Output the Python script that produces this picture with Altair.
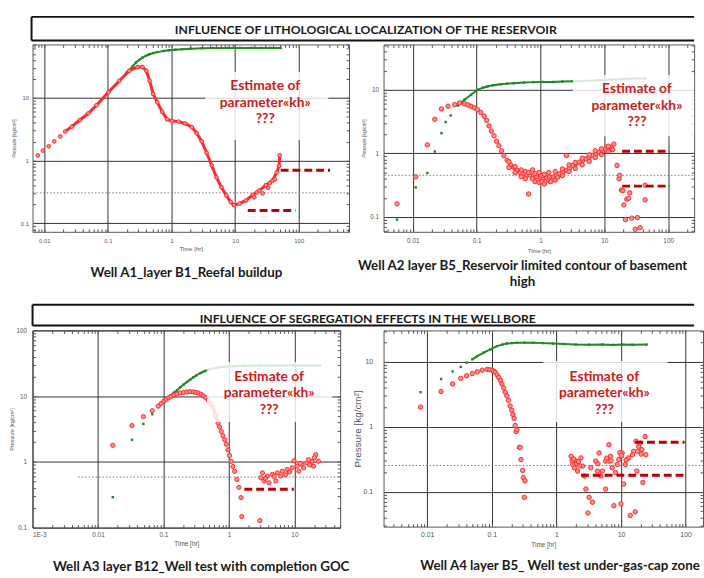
import math
import altair as alt
import pandas as pd

# ---------------- Well A1 / layer B1 ----------------
a1_red_t = [0.0079, 0.0095, 0.0117, 0.0143, 0.0178, 0.0212, 0.0269, 0.0363, 0.049, 0.066, 0.102, 0.151,
            0.216, 0.292, 0.348, 0.402, 0.453, 0.513, 0.596, 0.713, 0.851, 1.02, 1.29, 1.64, 2.09, 2.49,
            2.98, 3.56, 4.27, 5.09, 6.10, 7.28, 8.51, 9.55, 11.7, 14.8, 18.9, 24.0, 30.4, 38.6, 45.1, 49.0, 50.1]
a1_red_p = [1.21, 1.44, 1.69, 2.02, 2.42, 2.90, 3.47, 4.42, 5.62, 7.59, 12.3, 18.6,
            26.9, 30.9, 30.9, 26.9, 18.6, 11.5, 8.5, 5.96, 4.52, 4.27, 4.17, 3.89, 3.39, 2.73,
            2.02, 1.33, 0.84, 0.54, 0.375, 0.278, 0.219, 0.195, 0.206, 0.232, 0.284, 0.333, 0.407, 0.479, 0.646, 0.82, 1.21]
a1_red_scatter_t = [20.0, 22.0, 27.0, 33.0, 35.0, 42.0]
a1_red_scatter_p = [0.26, 0.31, 0.30, 0.37, 0.44, 0.50]
a1_green_sparse_t = []
a1_green_sparse_p = []
a1_green_t = [0.195, 0.216, 0.245, 0.275, 0.31, 0.348, 0.395, 0.443, 0.52, 0.596, 0.75, 0.906, 1.15, 1.46,
              2.0, 2.98, 4.5, 7.76, 12.0, 18.0, 25.5, 36.0, 52.0]
a1_green_p = [25.0, 27.5, 31.5, 36.3, 40.0, 43.4, 46.5, 49.0, 51.5, 53.2, 55.5, 57.1, 58.3, 59.3,
              60.5, 61.5, 62.0, 62.2, 62.2, 62.2, 62.2, 62.2, 62.2]
a1_dash_t0 = [52.0, 15.8]
a1_dash_t1 = [311.0, 89.0]
a1_dash_p = [0.70, 0.16]
a1_level = [0.0066, 610.0, 0.306]

# ---------------- Well A2 / layer B5 ----------------
a2_red_t = [0.00566, 0.0111, 0.0169, 0.0221, 0.0281, 0.0356, 0.0451, 0.0538, 0.0646, 0.0730, 0.0817, 0.092,
            0.103, 0.116, 0.131, 0.143, 0.156, 0.170, 0.187, 0.205, 0.223, 0.245, 0.267, 0.300, 0.338, 0.38,
            0.429, 0.48, 0.543, 0.61, 0.689, 0.78, 0.873, 1.0, 1.10, 1.24, 1.40, 1.58, 1.78, 2.0, 2.25, 2.54,
            2.85, 3.21, 3.6, 4.07, 4.6, 5.16, 5.8, 6.55, 7.4, 8.3, 9.3, 10.5, 11.5, 12.6, 13.3, 14.1, 15.8,
            17.0, 17.4, 18.6, 19.5, 20.2, 21.4, 22.5, 24.0, 25.0, 26.9, 30.5, 33.0, 36.3, 43.6, 43.6]
a2_red_p = [0.161, 0.427, 1.36, 3.43, 5.01, 5.52, 5.85, 6.21, 6.00, 5.80, 5.52, 5.2,
            4.90, 4.4, 3.86, 3.3, 2.70, 2.25, 1.89, 1.55, 1.32, 1.10, 0.925, 0.78, 0.664, 0.60,
            0.542, 0.50, 0.481, 0.46, 0.453, 0.44, 0.427, 0.41, 0.40, 0.412, 0.42, 0.427, 0.45, 0.481, 0.51, 0.542,
            0.59, 0.647, 0.69, 0.73, 0.78, 0.822, 0.87, 0.925, 0.98, 1.04, 1.10, 1.17, 1.20, 1.25, 1.15, 1.40, 0.647,
            0.40, 0.453, 0.265, 0.26, 0.155, 0.091, 0.19, 0.197, 0.24, 0.096, 0.064, 0.098, 0.068, 0.317, 0.186]
a2_red_scatter_t = [0.32, 0.32, 0.40, 0.40, 0.50, 0.50, 0.58, 0.58, 0.65, 0.65, 0.75, 0.75, 0.82, 0.82,
                    0.95, 0.95, 1.05, 1.05, 1.15, 1.15, 1.35, 1.35, 1.45, 1.7, 1.7, 1.85, 2.2, 2.2, 2.54,
                    2.8, 2.8, 3.5, 3.5, 4.5, 4.5, 5.8, 5.8, 7.2, 7.2, 9.0, 9.0, 11.5, 11.5, 13.5]
a2_red_scatter_p = [0.74, 0.60, 0.50, 0.62, 0.55, 0.43, 0.52, 0.40, 0.23, 0.50, 0.40, 0.55, 0.36, 0.48,
                    0.35, 0.50, 0.45, 0.36, 0.33, 0.47, 0.37, 0.50, 0.36, 0.38, 0.52, 0.42, 0.45, 0.57, 0.93,
                    0.52, 0.66, 0.58, 0.72, 0.66, 0.84, 0.75, 0.95, 0.86, 1.10, 0.96, 1.18, 1.08, 1.30, 1.15]
a2_green_sparse_t = [0.00566, 0.0111, 0.0169, 0.0221, 0.0281, 0.0327, 0.0391]
a2_green_sparse_p = [0.091, 0.292, 0.493, 1.07, 2.08, 3.12, 3.95]
a2_green_t = [0.0507, 0.0646, 0.0817, 0.103, 0.125, 0.148, 0.18, 0.237, 0.30, 0.380, 0.55, 0.776, 1.1,
              1.58, 2.2, 3.21, 5.0, 7.94, 13.0, 20.0, 30.0, 43.6]
a2_green_p = [5.65, 7.0, 8.36, 10.0, 10.8, 11.3, 11.8, 12.2, 12.5, 12.7, 13.0, 13.2, 13.3,
              13.3, 13.5, 13.6, 13.8, 14.1, 14.4, 14.8, 15.0, 15.1]
a2_dash_t0 = [19.0, 19.0]
a2_dash_t1 = [106.0, 106.0]
a2_dash_p = [1.08, 0.306]
a2_level = [0.0036, 250.0, 0.453]

# ---------------- Well A3 / layer B12 ----------------
a3_red_t = [0.0168, 0.033, 0.0493, 0.0675, 0.0832, 0.092, 0.101, 0.110, 0.120, 0.131, 0.143, 0.160, 0.180,
            0.203, 0.228, 0.255, 0.286, 0.312, 0.341, 0.372, 0.406, 0.443, 0.482, 0.525, 0.574, 0.625, 0.682,
            0.72, 0.766, 0.81, 0.861, 0.91, 0.966, 1.02, 1.08, 1.15, 1.22, 1.32, 1.42, 1.53, 1.57, 2.96]
a3_red_p = [1.78, 3.57, 4.88, 6.01, 7.06, 7.7, 8.41, 8.9, 9.44, 9.9, 10.4, 10.8, 11.2,
            11.4, 11.6, 11.7, 11.6, 11.4, 11.2, 10.7, 10.1, 9.5, 8.71, 7.7, 6.52, 5.1, 3.87,
            3.4, 2.90, 2.5, 2.17, 1.85, 1.53, 1.25, 1.02, 0.85, 0.72, 0.54, 0.41, 0.286, 0.147, 0.128]
a3_red_scatter_t = [3.07, 3.45, 3.87, 4.60, 5.48, 6.52, 7.74, 9.23, 11.0, 13.1, 15.5, 18.5, 21.2, 23.3,
                    3.25, 4.1, 5.2, 6.2, 7.3, 9.9, 11.7, 13.8, 16.4, 19.6, 20.2, 3.6, 4.9, 8.4, 12.2, 17.0]
a3_red_scatter_p = [0.574, 0.512, 0.608, 0.644, 0.682, 0.723, 0.766, 0.813, 0.861, 0.912, 0.966, 1.02, 1.29, 1.02,
                    0.68, 0.48, 0.51, 0.61, 0.64, 1.04, 0.72, 0.81, 1.08, 0.86, 1.16, 0.56, 0.60, 0.70, 0.95, 0.90]
a3_green_sparse_t = [0.0168, 0.033, 0.0493, 0.0675, 0.0832]
a3_green_sparse_p = [0.29, 2.17, 3.78, 5.30, 6.9]
a3_green_t = [0.101, 0.114, 0.128, 0.144, 0.161, 0.18, 0.203, 0.228, 0.255, 0.285, 0.320, 0.37, 0.43,
              0.52, 0.644, 0.85, 1.15, 1.7, 2.9, 5.0, 10.0, 24.7]
a3_green_p = [8.4, 9.3, 10.3, 11.3, 12.3, 13.6, 15.0, 16.4, 17.8, 19.3, 20.8, 22.5, 24.1,
              25.8, 27.0, 28.0, 28.6, 29.0, 29.3, 29.3, 29.3, 29.3]
a3_dash_t0 = [1.72]
a3_dash_t1 = [9.8]
a3_dash_p = [0.383]
a3_level = [0.005, 50.0, 0.587]

# ---------------- Well A4 / layer B5 ----------------
a4_red_t = [0.0079, 0.0164, 0.0247, 0.0331, 0.0408, 0.0499, 0.0596, 0.0710, 0.0847, 0.093, 0.101, 0.107,
            0.1135, 0.121, 0.128, 0.136, 0.1435, 0.152, 0.161, 0.171, 0.181, 0.192, 0.204, 0.212, 0.221,
            0.230, 0.238, 0.245, 0.268, 0.275, 0.283, 0.300, 0.307, 0.326, 0.318]
a4_red_p = [2.02, 3.50, 4.58, 5.58, 6.12, 6.65, 7.05, 7.47, 7.66, 7.6, 7.47, 7.2,
            6.89, 6.3, 5.78, 5.2, 4.58, 4.0, 3.42, 3.0, 2.56, 2.1, 1.80, 1.55, 1.35,
            1.05, 0.845, 0.90, 0.483, 0.48, 0.313, 0.213, 0.165, 0.147, 0.082]
a4_red_scatter_t = [1.69, 1.79, 2.01, 2.13, 2.40, 2.54, 2.70, 2.86, 3.21, 3.61, 3.07, 4.06, 4.31, 4.57, 5.14,
                    5.78, 5.78, 6.50, 6.89, 7.31, 7.75, 8.22, 9.25, 10.0, 10.4, 11.0, 11.7, 13.1, 13.9, 15.7,
                    16.6, 17.6, 18.7, 19.8, 21.0, 21.8, 23.6, 24.2, 1.90, 3.40, 4.84, 6.50, 8.71,
                    1.75, 1.85, 2.05, 2.2, 2.3, 4.4, 6.0, 7.0, 9.6, 10.2, 12.0, 15.0, 17.0, 18.0, 20.5]
a4_red_scatter_p = [0.352, 0.263, 0.296, 0.208, 0.332, 0.248, 0.175, 0.110, 0.082, 0.069, 0.047, 0.296, 0.208, 0.395, 0.208,
                    0.296, 0.110, 0.530, 0.352, 0.234, 0.061, 0.197, 0.313, 0.065, 0.395, 0.131, 0.263, 0.332, 0.043, 0.420,
                    0.049, 0.208, 0.500, 0.561, 0.445, 0.139, 0.710, 0.373, 0.234, 0.234, 0.175, 0.296, 0.263,
                    0.30, 0.32, 0.27, 0.29, 0.25, 0.27, 0.33, 0.30, 0.40, 0.36, 0.31, 0.37, 0.60, 0.42, 0.38]
a4_green_sparse_t = [0.0079, 0.0164, 0.0247, 0.0331, 0.0408]
a4_green_sparse_p = [3.42, 5.46, 7.13, 8.39, 9.77]
a4_green_t = [0.0499, 0.0596, 0.0752, 0.0951, 0.120, 0.145, 0.171, 0.205, 0.243, 0.32, 0.437, 0.62, 0.886,
              1.3, 2.01, 3.2, 5.14, 7.5, 10.4, 15.0, 24.9]
a4_green_p = [10.97, 12.3, 13.9, 15.6, 17.5, 18.5, 19.2, 19.5, 19.7, 19.8, 19.7, 19.5, 19.2,
              18.9, 18.5, 18.4, 18.5, 18.3, 18.5, 18.4, 18.5]
a4_dash_t0 = [16.6, 2.40]
a4_dash_t1 = [96.6, 96.6]
a4_dash_p = [0.58, 0.179]
a4_level = [0.0022, 185.0, 0.254]

# ---------------- texts ----------------
banner_top = "INFLUENCE OF LITHOLOGICAL LOCALIZATION OF THE RESERVOIR"
banner_bottom = "INFLUENCE OF SEGREGATION EFFECTS IN THE WELLBORE"
note_lines = ["Estimate of", "parameter«kh»", "???"]
captions = {
    "a1": ["Well A1_layer B1_Reefal buildup"],
    "a2": ["Well A2 layer B5_Reservoir limited contour of basement", "high"],
    "a3": ["Well A3 layer B12_Well test with completion GOC"],
    "a4": ["Well A4 layer B5_ Well test under-gas-cap zone"],
}

UI_FONT = "Liberation Sans"
TXT_FONT = "Lato"
RED_EDGE = "#ff2b2b"
RED_FILL = "#ff8e8e"
GREEN = "#1f8a1f"
DASH_RED = "#c00000"
NOTE_RED = "#d01a1a"


def decade_values(lo, hi):
    k0, k1 = math.floor(math.log10(lo)), math.ceil(math.log10(hi))
    return [10.0 ** k for k in range(k0, k1 + 1) if lo * 0.999 <= 10.0 ** k <= hi * 1.001]


def minor_values(lo, hi):
    k0, k1 = math.floor(math.log10(lo)), math.ceil(math.log10(hi))
    out = []
    for k in range(k0, k1 + 1):
        for m in range(1, 10):
            v = m * 10.0 ** k
            if lo <= v <= hi:
                out.append(v)
    return out


def text_lines(lines, x, y0, step, **style):
    """One text mark per line, stacked downward from y0."""
    base = alt.Chart(pd.DataFrame({"k": [0]}))
    return [base.mark_text(baseline="middle", align="center", **style).encode(
        x=alt.value(x), y=alt.value(y0 + i * step), text=alt.value(s)) for i, s in enumerate(lines)]


def banner_layers(text, x0, x1, y0, y1, tx, ty):
    """Section header: a framed strip drawn above a panel row."""
    base = alt.Chart(pd.DataFrame({"k": [0]}))
    edge = dict(color="#111111", strokeWidth=2)
    return [
        base.mark_rule(**edge).encode(x=alt.value(x0), x2=alt.value(x1), y=alt.value(y0)),
        base.mark_rule(**edge).encode(x=alt.value(x0), x2=alt.value(x1), y=alt.value(y1)),
        base.mark_rule(**edge).encode(x=alt.value(x0), y=alt.value(y0), y2=alt.value(y1)),
    ] + text_lines([text], tx, ty, 0, font=TXT_FONT, fontWeight="bold", fontSize=12.4, color="#1a1a1a")


def well_panel(c):
    W, H = c["w"], c["h"]
    xs = alt.Scale(type="log", domain=c["xdom"], nice=False)
    ys = alt.Scale(type="log", domain=c["ydom"], nice=False)

    red_all = pd.DataFrame({"t": c["red_t"] + c["red_sc_t"], "p": c["red_p"] + c["red_sc_p"]})
    lo, hi = c["red_line"]
    red_line = pd.DataFrame({"t": c["red_t"][lo:hi], "p": c["red_p"][lo:hi]})
    green_all = pd.DataFrame({"t": c["g_sp_t"] + c["g_t"], "p": c["g_sp_p"] + c["g_p"]})
    green_line = pd.DataFrame({"t": c["g_t"], "p": c["g_p"]})
    dashes = pd.DataFrame({"t0": c["d_t0"], "t1": c["d_t1"], "p": c["d_p"]})
    level = pd.DataFrame({"t0": [c["level"][0]], "t1": [c["level"][1]], "p": [c["level"][2]]})
    one = pd.DataFrame({"k": [0]})

    xkw = dict(orient="bottom", values=decade_values(*c["xdom"]), grid=True, ticks=False, tickSize=0,
               domain=False, labelPadding=c["xlab_pad"], labelFontSize=c["lab_fs"], labelOverlap=False,
               title="Time [hr]", titleFontSize=c["xtit_fs"], titlePadding=c["xtit_pad"])
    if "xexpr" in c:
        xkw["labelExpr"] = c["xexpr"]
    else:
        xkw["format"] = "~g"
    x_main = alt.Axis(**xkw)
    y_main = alt.Axis(orient="left", values=decade_values(*c["ydom"]), format="~g", grid=True, ticks=False,
                      tickSize=0, domain=False, labelPadding=c["ylab_pad"], labelFontSize=c["lab_fs"],
                      labelOverlap=False, title="Pressure [kg/cm²]", titleFontSize=c["ytit_fs"],
                      titlePadding=c["ytit_pad"])

    X = lambda f: alt.X(f, type="quantitative", scale=xs, axis=None)
    Y = lambda f: alt.Y(f, type="quantitative", scale=ys, axis=None)

    layers = [
        alt.Chart(level).mark_rule(color="#777777", strokeWidth=1, strokeDash=[1.5, 2]).encode(
            x=alt.X("t0:Q", scale=xs, axis=x_main), x2="t1:Q",
            y=alt.Y("p:Q", scale=ys, axis=y_main)),
        alt.Chart(green_line).mark_line(color=GREEN, strokeWidth=2).encode(x=X("t"), y=Y("p")),
        alt.Chart(green_all).mark_square(color=GREEN, size=6, opacity=1).encode(x=X("t"), y=Y("p")),
    ]
    if hi > lo:
        layers.append(alt.Chart(red_line).mark_line(color=RED_EDGE, strokeWidth=3).encode(x=X("t"), y=Y("p")))
    layers += [
        alt.Chart(red_all).mark_point(shape="circle", filled=True, fill=RED_FILL, stroke=RED_EDGE,
                                      strokeWidth=1, size=c["dot"], opacity=1).encode(x=X("t"), y=Y("p")),
        alt.Chart(dashes).mark_rule(color=DASH_RED, strokeWidth=3, strokeDash=[8, 4]).encode(
            x=X("t0"), x2="t1:Q", y=Y("p")),
        alt.Chart(one).mark_rect(fill="white", opacity=0.82).encode(
            x=alt.value(c["box"][0]), x2=alt.value(c["box"][1]),
            y=alt.value(c["box"][2]), y2=alt.value(c["box"][3])),
    ]
    layers += text_lines(note_lines, c["note"][0], c["note"][1], 17,
                         font=TXT_FONT, fontWeight="bold", fontSize=14, color=NOTE_RED)
    layers += text_lines(c["cap_text"], c["cap"][0], c["cap"][1], 16,
                         font=TXT_FONT, fontWeight="bold", fontSize=13.5, color="#1a1a1a")
    if "banner" in c:
        layers += banner_layers(*c["banner"])
    if "anchor" in c:
        # fixes the top-left corner of the drawing so the panels land on whole pixels
        ax, ay = c["anchor"]
        layers.append(alt.Chart(one).mark_rule(opacity=0, strokeWidth=1).encode(
            x=alt.value(ax), x2=alt.value(ax + 1), y=alt.value(ay)))

    # small inward tick marks on the four frame edges
    minors_x = minor_values(*c["xdom"])
    minors_y = minor_values(*c["ydom"])
    tick_kw = dict(labels=False, grid=False, domain=False, ticks=True, tickSize=3, title=None,
                   tickColor="#555555")
    for orient in ("top", "bottom"):
        layers.append(alt.Chart(red_all).mark_point(opacity=0).encode(
            x=alt.X("t:Q", scale=xs, axis=alt.Axis(orient=orient, offset=-H, values=minors_x, **tick_kw)),
            y=Y("p")))
    for orient in ("left", "right"):
        layers.append(alt.Chart(red_all).mark_point(opacity=0).encode(
            x=X("t"),
            y=alt.Y("p:Q", scale=ys, axis=alt.Axis(orient=orient, offset=-W, values=minors_y, **tick_kw))))

    return alt.layer(*layers).resolve_axis(x="independent", y="independent").properties(width=W, height=H)


p1 = well_panel(dict(
    w=321, h=190, xdom=[0.00652, 618.0], ydom=[0.0733, 70.5],
    red_t=a1_red_t, red_p=a1_red_p, red_sc_t=a1_red_scatter_t, red_sc_p=a1_red_scatter_p, red_line=(5, 43),
    g_sp_t=a1_green_sparse_t, g_sp_p=a1_green_sparse_p, g_t=a1_green_t, g_p=a1_green_p,
    d_t0=a1_dash_t0, d_t1=a1_dash_t1, d_p=a1_dash_p, level=a1_level, dot=14,
    box=(175, 300, 28, 97), note=(236, 42),
    cap=(156, 232), cap_text=captions["a1"],
    banner=(banner_top, -1, 671, -28, -4, 338, -15), anchor=(-31, -39),
    lab_fs=6, xtit_fs=6, ytit_fs=5, xlab_pad=6, xtit_pad=2, ylab_pad=4, ytit_pad=4))

p2 = well_panel(dict(
    w=315, h=190, xdom=[0.00348, 255.0], ydom=[0.0585, 51.6],
    red_t=a2_red_t, red_p=a2_red_p, red_sc_t=a2_red_scatter_t, red_sc_p=a2_red_scatter_p, red_line=(0, 0),
    g_sp_t=a2_green_sparse_t, g_sp_p=a2_green_sparse_p, g_t=a2_green_t, g_p=a2_green_p,
    d_t0=a2_dash_t0, d_t1=a2_dash_t1, d_p=a2_dash_p, level=a2_level, dot=20,
    box=(192, 315, 31, 93), note=(257, 45),
    cap=(141, 225), cap_text=captions["a2"],
    lab_fs=6.5, xtit_fs=6, ytit_fs=5, xlab_pad=6, xtit_pad=3, ylab_pad=5, ytit_pad=3))

p3 = well_panel(dict(
    w=312, h=200, xdom=[0.001, 50.0], ydom=[0.1, 100.0],
    red_t=a3_red_t, red_p=a3_red_p, red_sc_t=a3_red_scatter_t, red_sc_p=a3_red_scatter_p, red_line=(4, 27),
    g_sp_t=a3_green_sparse_t, g_sp_p=a3_green_sparse_p, g_t=a3_green_t, g_p=a3_green_p,
    d_t0=a3_dash_t0, d_t1=a3_dash_t1, d_p=a3_dash_p, level=a3_level, dot=18,
    box=(177, 304, 32, 93), note=(240, 47),
    cap=(171, 240), cap_text=captions["a3"],
    banner=(banner_bottom, 0, 671, -26, -5, 340, -12),
    xexpr="datum.value < 0.005 ? '1E-3' : format(datum.value, '~g')",
    lab_fs=6.5, xtit_fs=6.5, ytit_fs=5.5, xlab_pad=4, xtit_pad=3, ylab_pad=6, ytit_pad=1))

p4 = well_panel(dict(
    w=324, h=199, xdom=[0.00211, 186.0], ydom=[0.029, 30.6],
    red_t=a4_red_t, red_p=a4_red_p, red_sc_t=a4_red_scatter_t, red_sc_p=a4_red_scatter_p, red_line=(0, 0),
    g_sp_t=a4_green_sparse_t, g_sp_p=a4_green_sparse_p, g_t=a4_green_t, g_p=a4_green_p,
    d_t0=a4_dash_t0, d_t1=a4_dash_t1, d_p=a4_dash_p, level=a4_level, dot=20,
    box=(162, 288, 31, 93), note=(224, 47),
    cap=(179, 239), cap_text=captions["a4"],
    lab_fs=7, xtit_fs=6.5, ytit_fs=10, xlab_pad=4.5, xtit_pad=4, ylab_pad=11, ytit_pad=1))

chart = alt.concat(
    p1, p2, p3, p4, columns=2, spacing=alt.RowColnumber(row=100, column=35), bounds="flush", align="none"
).properties(
    padding={"left": 1, "top": 1, "right": 0, "bottom": 0}
).configure_view(
    stroke="#555555", strokeWidth=1
).configure_axis(
    labelFont=UI_FONT, titleFont=UI_FONT, labelColor="#555555", titleColor="#555555",
    titleFontWeight="normal", gridColor="#333333", gridWidth=1, gridOpacity=1
)

chart.save("out.html", embed_options={"renderer": "svg", "actions": False})
